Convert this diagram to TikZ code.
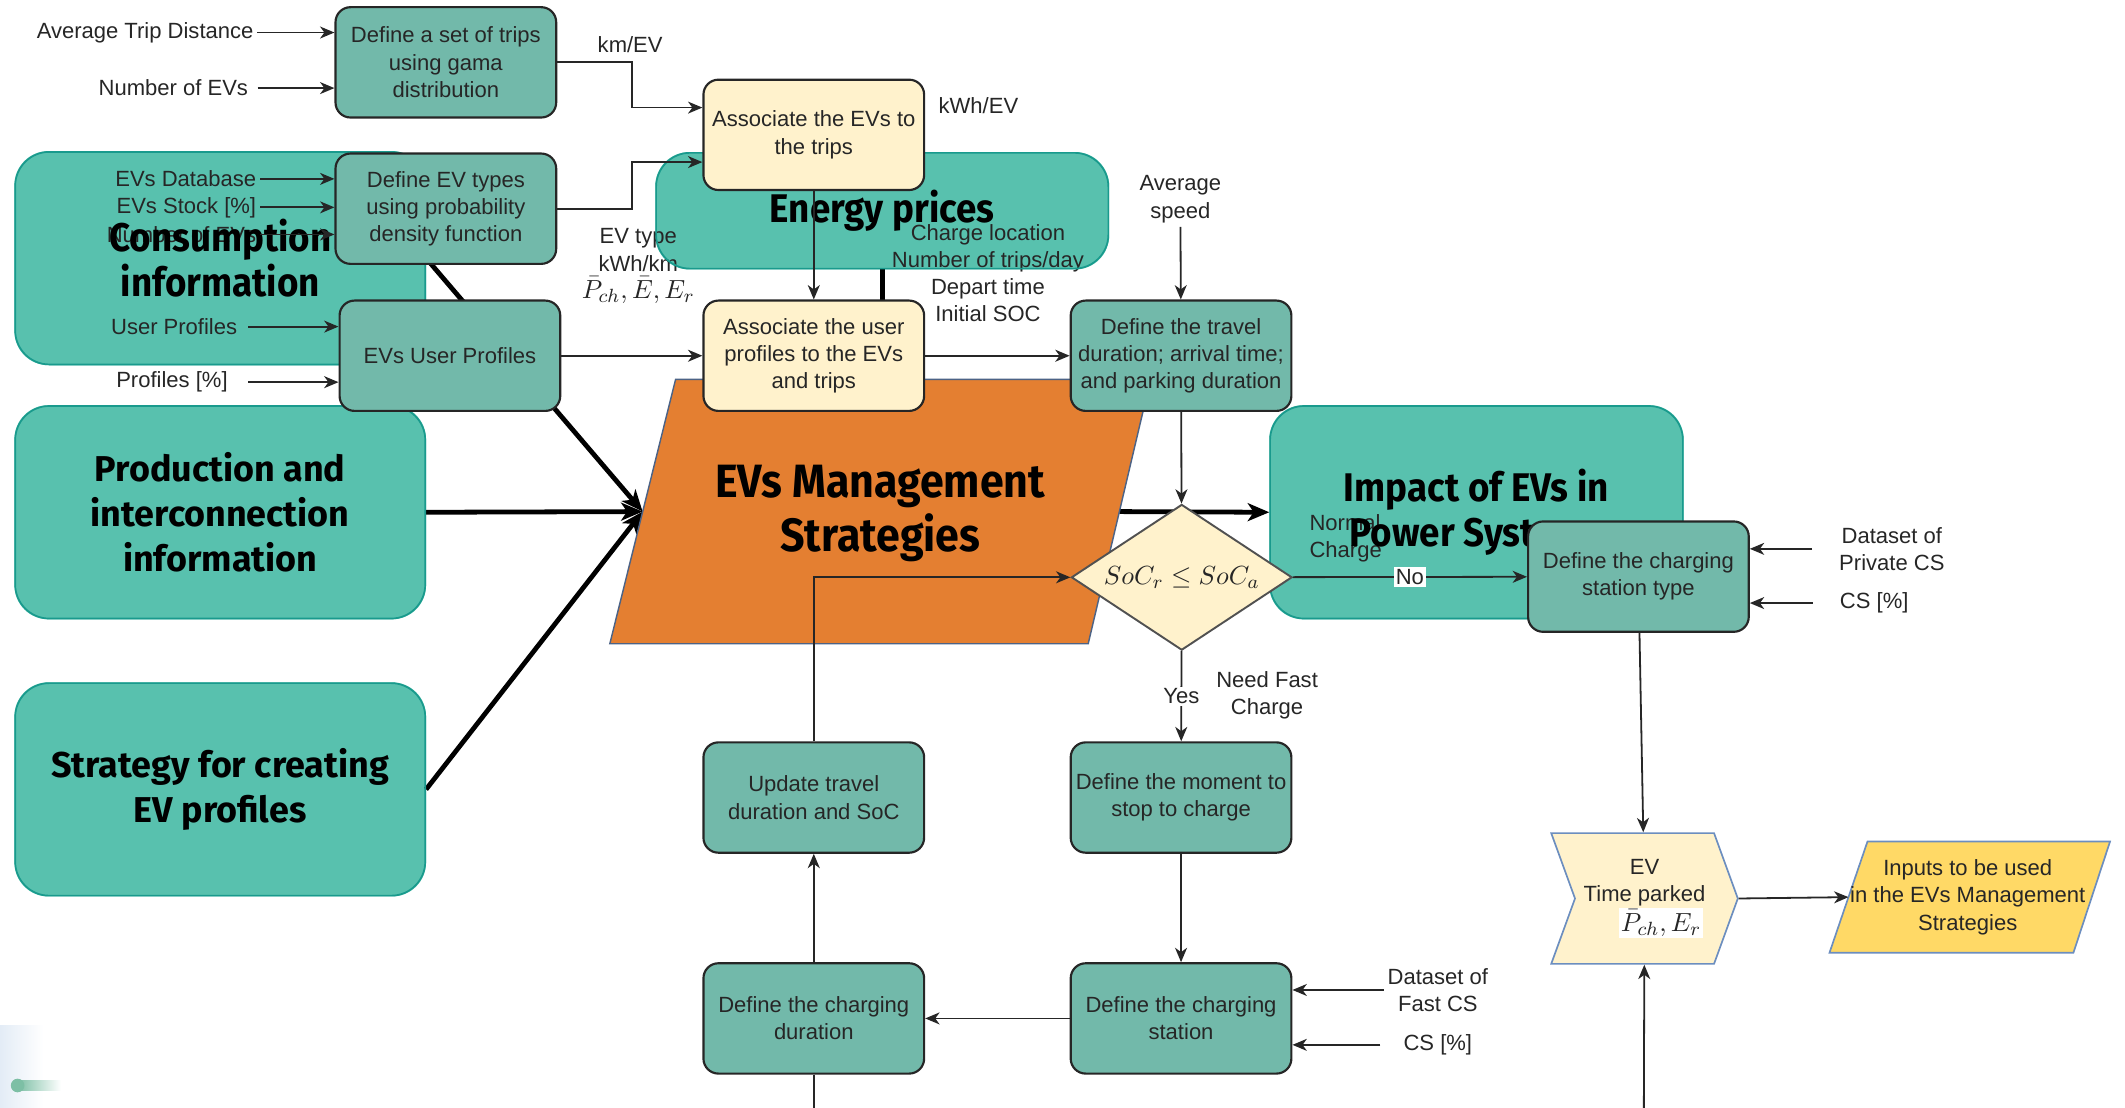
\documentclass[tikz,border=0pt]{standalone}
\usepackage{fontspec}
\setmainfont{Liberation Sans}
\newfontfamily\headfont{Fira Sans}
\newfontfamily\narrowfont[FakeStretch=0.92]{Fira Sans}
\usetikzlibrary{shapes.geometric,shapes.symbols,arrows.meta,backgrounds}
\definecolor{areafill}{HTML}{58C1AE}
\definecolor{areaedge}{HTML}{199A8D}
\definecolor{procfill}{HTML}{72B9AA}
\definecolor{cream}{HTML}{FFF2CC}
\definecolor{gold}{HTML}{FFD966}
\definecolor{orangefill}{HTML}{E47F31}
\definecolor{slate}{HTML}{6C8EBF}
\definecolor{ink}{HTML}{262626}
\definecolor{dotgreen}{HTML}{7DBFA5}
\definecolor{haze}{HTML}{E3ECF6}
\setlength{\fboxsep}{0.6pt}

\begin{document}
\begin{tikzpicture}[x=0.0199cm, y=-0.0199cm,
   font=\fontsize{9.2}{11.4}\selectfont, text=ink,
   flow/.style={draw=ink, line width=0.75pt, -{Stealth[length=6pt,width=5pt,inset=1.8pt]}},
   heavy/.style={draw=black, line width=2pt, -{Stealth[length=9pt,width=7.5pt,inset=2.5pt]}},
   lbl/.style={inner sep=1.5pt, align=center},
   proc/.style={draw=ink, line width=0.9pt, fill=procfill, rounded corners=0.22cm,
      minimum width=3.24cm, minimum height=1.62cm, align=center, inner sep=1pt},
   link/.style={proc, fill=cream},
   area/.style={draw=areaedge, line width=0.7pt, rounded corners=0.5cm, align=center,
      text=black, minimum width=6.02cm, minimum height=3.12cm},
   wide/.style={font=\headfont\bfseries\fontsize{15}{18.8}\selectfont},
   narrow/.style={font=\narrowfont\bfseries\fontsize{16.7}{18.6}\selectfont}]
\useasboundingbox (0,0) rectangle (31.2cm,-16.268cm);

% inputs on the left
\node[lbl, anchor=east] (lAvg) at (190,24) {Average Trip Distance};
\node[lbl, anchor=east] (lNumA) at (186,65) {Number of EVs};
\node[lbl, anchor=east] (lDb) at (192,132) {EVs Database};
\node[lbl, anchor=east] (lStock) at (192,153) {EVs Stock [\%]};
\node[lbl, anchor=east] (lNumB) at (192,173) {Number of EVs};
\node[lbl, anchor=east] (lUser) at (178,241) {User Profiles};
\node[lbl, anchor=east] (lProf) at (171,282) {Profiles [\%]};
% other labels
\node[lbl] (lKm) at (465,33) {km/EV};
\node[lbl] (lKwh) at (722,78) {kWh/EV};
\node[lbl] (lType) at (471,197) {EV type\\kWh/km\\\colorbox{white}{\fontsize{11.3}{13}\selectfont$\bar P_{ch}, \bar E, E_r$}};
\node[lbl] (lTrip) at (729,201.5) {Charge location\\Number of trips/day\\Depart time\\Initial SOC};
\node[lbl] (lSpeed) at (871,147) {Average\\speed};
\node[lbl, align=left] (lNormal) at (993,397) {Normal\\Charge};
\node[lbl] (lNeed) at (935,513) {Need Fast\\Charge};
\node[lbl] (lPriv) at (1396,405) {Dataset of\\Private CS};
\node[lbl] (lCsP) at (1383,445) {CS [\%]};
\node[lbl] (lFast) at (1061,730.5) {Dataset of\\Fast CS};
\node[lbl] (lCsF) at (1061,771) {CS [\%]};

% big areas
\node[area, narrow] (cons) at (162.5,190.5) {Consumption\\information};
\node[area, wide] (prod) at (162.5,378) {Production and\\interconnection\\information};
\node[area, wide] (strat) at (162.5,582.5) {Strategy for creating\\EV profiles};
\node[area, narrow, minimum width=6.64cm, minimum height=1.7cm] (energy) at (651,155.5) {Energy prices};
\node[area, narrow, minimum width=6.06cm] (impact) at (1089.5,378) {Impact of EVs in\\Power Systems};

% management strategies block
\filldraw[fill=orangefill, draw=slate!70!black, line width=0.6pt]
   (450,475) -- (498.5,280) -- (849,280) -- (803,475) -- cycle;
\coordinate (evmsL) at (474.2,377.5);
\coordinate (evmsR) at (826,377.5);
\coordinate (evmsT) at (650,280);
\node[text=black, align=center, font=\narrowfont\bfseries\fontsize{19.5}{22.8}\selectfont]
   (evms) at (649.5,379) {EVs Management\\Strategies};

% process steps
\node[proc] (trips) at (329,46) {Define a set of trips\\using gama\\distribution};
\node[proc] (types) at (329,154) {Define EV types\\using probability\\density function};
\node[proc] (users) at (332,262.5) {EVs User Profiles};
\node[link] (assoc1) at (600.5,99.5) {Associate the EVs to\\the trips};
\node[link] (assoc2) at (600.5,262.5) {Associate the user\\profiles to the EVs\\and trips};
\node[proc] (travel) at (871.5,262.5) {Define the travel\\duration; arrival time;\\and parking duration};
\node[diamond, aspect=1.5, draw=ink!80, line width=0.8pt, fill=cream, minimum width=3.24cm, minimum height=2.14cm,
   inner sep=0pt, font=\fontsize{11.3}{13}\selectfont] (cond) at (872,426) {$SoC_r \le SoC_a$};
\node[proc] (csType) at (1209,425.5) {Define the charging\\station type};
\node[proc] (moment) at (871.5,588.5) {Define the moment to\\stop to charge};
\node[proc] (station) at (871.5,751.5) {Define the charging\\station};
\node[proc] (duration) at (600.5,751.5) {Define the charging\\duration};
\node[proc] (update) at (600.5,588.5) {Update travel\\duration and SoC};
\node[signal, signal to=east, signal from=west, signal pointer angle=140, fill=cream, draw=slate,
   line width=0.7pt, minimum width=2.74cm, minimum height=1.92cm, align=center, inner sep=1pt]
   (parked) at (1213.5,663) {EV\\Time parked\\\hspace*{1.5em}\colorbox{white}{\fontsize{11.3}{13}\selectfont$\bar P_{ch}, E_r$}};

% inputs block
\filldraw[fill=gold, draw=slate, line width=0.7pt]
   (1350,703) -- (1378,621) -- (1557,621) -- (1530,703) -- cycle;
\coordinate (inputsL) at (1364,662);
\node[align=center] (inputs) at (1452,662) {Inputs to be used\\in the EVs Management\\Strategies};

\coordinate (parkIn) at (1213,818);
\coordinate (durOut) at (600.5,818);

% connectors
\draw[flow] (lAvg.east) -- (lAvg -| trips.west);
\draw[flow] ([xshift=0.08cm]lNumA.east) -- (lNumA -| trips.west);
\draw[flow] (lDb.east) -- (lDb -| types.west);
\draw[flow] (lStock.east) -- (lStock -| types.west);
\draw[flow] (lNumB.east) -- (lNumB -| types.west);
\draw[flow] ([xshift=0.1cm]lUser.east) -- (lUser -| users.west);
\draw[flow] ([xshift=0.24cm]lProf.east) -- (lProf -| users.west);
\draw[flow] (trips.east) -- ++(55,0) |- ([yshift=0.4cm]assoc1.west);
\draw[flow] (types.east) -- ++(55,0) |- ([yshift=-0.4cm]assoc1.west);
\draw[flow] (users) -- (assoc2);
\draw[flow] (assoc1) -- (assoc2);
\draw[flow] (assoc2) -- (travel);
\draw[flow] (lSpeed) -- (travel);
\draw[flow] (travel) -- (cond);
\draw[flow] (cond) -- node[fill=white, inner sep=0.8pt] {No} (csType);
\draw[flow] ([xshift=-0.34cm]lPriv.west) -- (lPriv.west -| csType.east);
\draw[flow] ([xshift=-0.34cm]lCsP.west) -- (lCsP.west -| csType.east);
\draw[flow] (csType) -- (parked);
\draw[flow] (parked.east) -- (inputsL);
\draw[flow] (parkIn) -- (parked);
\draw[flow] (cond) -- node[fill=white, inner sep=0.8pt] {Yes} (moment);
\draw[flow] (moment) -- (station);
\draw[flow] (lFast.west) -- (lFast.west -| station.east);
\draw[flow] ([xshift=-0.28cm]lCsF.west) -- (lCsF.west -| station.east);
\draw[flow] (station) -- (duration);
\draw[flow] (duration) -- (update);
\draw[flow] (update) |- (cond);
\draw[draw=ink, line width=0.75pt] (duration) -- (durOut);

\begin{scope}[on background layer]
  \foreach \b in {cons,prod,strat,energy,impact}
    \fill[areafill, rounded corners=0.5cm] (\b.south west) rectangle (\b.north east);
  \foreach \b in {cons,prod,strat}
    \draw[heavy] (\b.east) -- (evmsL);
  \draw[heavy] (energy.south) -- (energy.south |- evmsT);
  \draw[heavy] (evmsR) -- (impact.west);
  % corner of the screenshot
  \shade[left color=haze, right color=white] (0,757) rectangle (32,818);
  \shade[left color=dotgreen, right color=white] (13,797) rectangle (45,805);
  \fill[dotgreen] (13,801) circle (0.1cm);
\end{scope}
\end{tikzpicture}
\end{document}
